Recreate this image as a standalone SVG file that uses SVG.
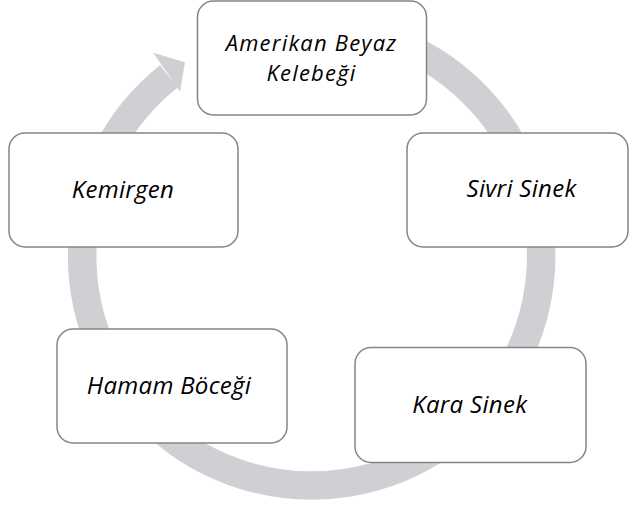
<svg xmlns="http://www.w3.org/2000/svg" width="629" height="506" viewBox="0 0 629 506">
<style>
.box{fill:#ffffff;stroke:#858585;stroke-width:1.5}
.lbl{font-family:"Open Sans","Noto Sans","Liberation Sans",sans-serif;font-style:italic;font-size:24px;letter-spacing:0.3px;fill:#000000;text-anchor:middle}
.lbl2{font-size:22px;letter-spacing:1.2px}
.ring{fill:none;stroke:#cfd0d3;stroke-width:28.5}
.head{fill:#cfd0d3}
</style>
<rect width="629" height="506" fill="#ffffff"/>
<g id="connectors">
<path class="ring" d="M390,40.3 A229.5,229.5 0 1 1 168.8,76.4"/>
<polygon class="head" points="153.3,52.7 185,62.3 180,91.7"/>
</g>
<g id="node-amerikan">
<rect class="box" x="197.5" y="1" width="229" height="114" rx="16"/>
<text class="lbl lbl2" x="311.5" y="50.5">Amerikan Beyaz</text>
<text class="lbl lbl2" x="311.5" y="81.2">Kelebeği</text>
</g>
<g id="node-sivri">
<rect class="box" x="407" y="133" width="221" height="114" rx="16"/>
<text class="lbl" x="521.5" y="196.7">Sivri Sinek</text>
</g>
<g id="node-kara">
<rect class="box" x="355" y="347.5" width="231" height="115" rx="16"/>
<text class="lbl" x="469.7" y="412.5">Kara Sinek</text>
</g>
<g id="node-hamam">
<rect class="box" x="57" y="329" width="230" height="114" rx="16"/>
<text class="lbl" x="169" y="394.3">Hamam Böceği</text>
</g>
<g id="node-kemirgen">
<rect class="box" x="9" y="133" width="229" height="114" rx="16"/>
<text class="lbl" x="123" y="197.7">Kemirgen</text>
</g>
</svg>
